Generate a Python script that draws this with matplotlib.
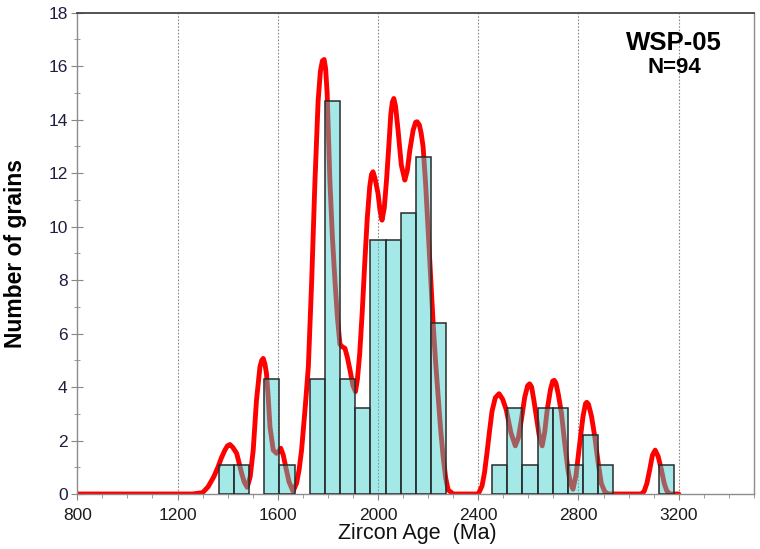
import numpy as np
import matplotlib
matplotlib.use("Agg")
import matplotlib.pyplot as plt
from matplotlib.ticker import MultipleLocator

# ---------------- data ----------------
sample_name = "WSP-05"
n_label = "N=94"

hist_start = 1364.0      # left edge of first bin (Ma)
bin_width = 60.6         # Ma
bar_heights = [1.1, 1.1, 0, 4.3, 1.1, 0, 4.3, 14.7, 4.3, 3.2,
               9.5, 9.5, 10.5, 12.6, 6.4, 0, 0, 0, 1.1, 3.2,
               1.1, 3.2, 3.2, 1.1, 2.2, 1.1, 0, 0, 0, 1.1]

curve_age = [800, 1260, 1300, 1322, 1345, 1362, 1375, 1389, 1399, 1409,
             1420, 1436, 1446, 1456, 1466, 1478, 1490, 1502, 1515, 1529,
             1536, 1542, 1549, 1555, 1562, 1569, 1582, 1595, 1604, 1612,
             1622, 1632, 1645, 1661, 1675, 1685, 1695, 1710, 1722, 1735,
             1748, 1761, 1770, 1778, 1785, 1791, 1797, 1808, 1818, 1828,
             1838, 1848, 1858, 1868, 1878, 1888, 1900, 1910, 1918, 1927,
             1937, 1947, 1957, 1967, 1974, 1980, 1988, 2000, 2008, 2016,
             2025, 2034, 2043, 2051, 2057, 2063, 2070, 2080, 2093, 2107,
             2117, 2127, 2140, 2150, 2156, 2165, 2172, 2180, 2190, 2200,
             2210, 2220, 2230, 2240, 2250, 2260, 2270, 2280, 2300, 2400,
             2415, 2425, 2435, 2445, 2455, 2468, 2483, 2497, 2512, 2530,
             2548, 2560, 2572, 2585, 2597, 2605, 2613, 2622, 2632, 2643,
             2655, 2665, 2675, 2688, 2697, 2703, 2710, 2720, 2732, 2745,
             2758, 2768, 2778, 2790, 2805, 2818, 2828, 2833, 2840, 2852,
             2865, 2878, 2891, 2905, 2920, 3050, 3062, 3073, 3084, 3095,
             3106, 3118, 3131, 3142, 3152, 3165, 3200]
curve_val = [0, 0, 0.05, 0.27, 0.65, 1.02, 1.35, 1.64, 1.8, 1.85,
             1.75, 1.52, 1.15, 0.77, 0.45, 0.25, 0.65, 1.64, 3.5, 4.76,
             5.0, 5.07, 4.85, 4.5, 3.6, 2.5, 1.64, 1.52, 1.6, 1.71,
             1.45, 1.0, 0.45, 0.1, 0.4, 0.9, 1.64, 3.3, 4.76, 7.88,
             11.6, 14.7, 15.8, 16.2, 16.25, 15.9, 15.0, 11.7, 9.6, 8.0,
             6.6, 5.6, 5.5, 5.45, 5.1, 4.64, 4.05, 3.83, 4.3, 5.26,
             6.8, 8.62, 10.3, 11.5, 11.95, 12.05, 11.8, 11.24, 10.6, 10.24,
             10.7, 11.74, 13.0, 14.2, 14.65, 14.79, 14.5, 13.6, 12.3, 11.74,
             12.1, 12.86, 13.6, 13.9, 13.92, 13.8, 13.5, 12.98, 11.6, 9.87,
             8.1, 6.38, 4.9, 3.64, 2.4, 1.39, 0.6, 0.15, 0, 0,
             0.3, 0.8, 1.55, 2.35, 3.1, 3.6, 3.75, 3.55, 3.14, 2.3,
             1.8, 2.1, 2.77, 3.6, 4.05, 4.12, 4.0, 3.5, 2.89, 2.2,
             1.8, 2.3, 3.14, 3.9, 4.22, 4.25, 4.15, 3.7, 3.02, 1.9,
             0.9, 0.4, 0.18, 0.7, 1.9, 2.9, 3.38, 3.43, 3.35, 2.9,
             2.14, 1.2, 0.4, 0.08, 0, 0, 0.1, 0.4, 0.9, 1.45,
             1.64, 1.4, 0.9, 0.4, 0.12, 0, 0]

x_major_ticks = [800, 1200, 1600, 2000, 2400, 2800, 3200]
grid_ages = [1200, 1600, 2000, 2400, 2800, 3200]
y_major_ticks = [0, 2, 4, 6, 8, 10, 12, 14, 16, 18]

# ---------------- figure ----------------
plt.rcParams['font.family'] = ['Liberation Sans', 'DejaVu Sans']

fig = plt.figure(figsize=(7.6, 5.49), dpi=100)
ax = fig.add_axes([0.1017, 0.1002, 0.8903, 0.8767])

ax.set_xlim(800, 3500)
ax.set_ylim(0, 18)

for g in grid_ages:
    ax.axvline(g, color='#8a8a8a', lw=0.8, ls=(0, (1.5, 1.5)), zorder=0.5)

ax.plot(curve_age, curve_val, color='#ff0000', lw=3.5,
        solid_joinstyle='round', solid_capstyle='round', zorder=2)

heights = np.array(bar_heights, dtype=float)
lefts = hist_start + bin_width * np.arange(len(heights))
mask = heights > 0
ax.bar(lefts[mask], heights[mask], width=bin_width, align='edge',
       facecolor=(60 / 255, 205 / 255, 205 / 255, 0.46),
       edgecolor='#2a2a2a', linewidth=1.1, zorder=3)

ax.set_xticks(x_major_ticks)
ax.set_yticks(y_major_ticks)
ax.xaxis.set_minor_locator(MultipleLocator(100))
ax.yaxis.set_minor_locator(MultipleLocator(1))
ax.tick_params(axis='x', which='major', direction='out', length=4,
               color='#888888', labelsize=12.5, labelcolor='#1c1c1c', pad=6)
ax.tick_params(axis='x', which='minor', direction='out', length=3,
               color='#888888')
ax.tick_params(axis='y', which='major', direction='inout', length=8,
               color='#888888', labelsize=12.5, labelcolor='#1e1e40', pad=3)
ax.tick_params(axis='y', which='minor', direction='inout', length=5,
               color='#888888')

for s in ['left', 'bottom', 'right']:
    ax.spines[s].set_color('#8c8c8c')
    ax.spines[s].set_linewidth(1.0)
ax.spines['top'].set_color('#444444')
ax.spines['top'].set_linewidth(1.3)

ax.set_ylabel('Number of grains', fontsize=16.5, fontweight='bold',
              color='black')
ax.yaxis.set_label_coords(-0.074, 0.5)
ax.text(0.502, -0.061, 'Zircon Age  (Ma)', transform=ax.transAxes,
        ha='center', va='top', fontsize=15.5, color='#111111')

ax.text(0.882, 0.937, sample_name, transform=ax.transAxes, ha='center',
        va='center', fontsize=18.5, fontweight='bold', color='black')
ax.text(0.882, 0.886, n_label, transform=ax.transAxes, ha='center',
        va='center', fontsize=16, fontweight='bold', color='black')

fig.savefig('out.png', dpi=100)
